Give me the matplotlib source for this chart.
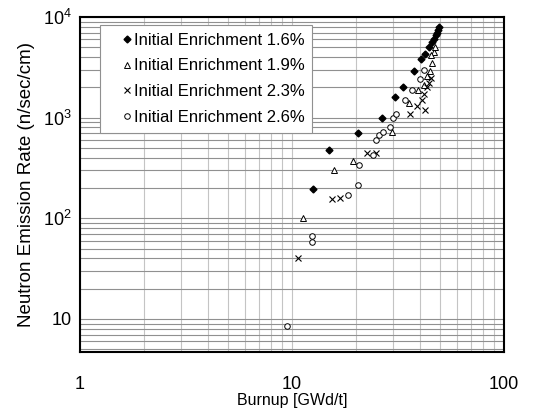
import matplotlib
matplotlib.use("Agg")
import matplotlib.pyplot as plt
from matplotlib.ticker import FixedLocator, LogLocator, NullFormatter

plt.rcParams['font.family'] = ['Liberation Sans', 'DejaVu Sans']

# burnup [GWd/t] and neutron emission rate (n/sec/cm)
e16_x = [12.5, 14.9, 20.5, 26.5, 30.5, 33.5, 37.5, 40.5, 42.5, 44.5, 46.0, 47.0, 48.0, 48.5, 49.0, 49.5]
e16_y = [195, 480, 700, 1000, 1600, 2000, 2900, 3800, 4300, 5000, 5700, 6100, 6700, 7000, 7500, 8000]

e19_x = [11.3, 15.8, 19.5, 29.5, 35.5, 39.5, 42.0, 43.5, 45.0, 46.0, 47.0, 45.5, 47.5]
e19_y = [100, 300, 370, 720, 1400, 1900, 2100, 2600, 2900, 3500, 4500, 4200, 5000]

e23_x = [10.7, 15.4, 16.8, 22.5, 25.0, 36.0, 39.0, 41.0, 42.0, 43.5, 44.5, 45.5, 42.5]
e23_y = [40, 155, 160, 450, 450, 1100, 1300, 1500, 1700, 2000, 2200, 2500, 1200]

e26_x = [9.5, 12.4, 12.4, 18.3, 20.5, 20.8, 24.0, 25.0, 25.8, 26.8, 29.0, 30.0, 31.0, 34.0, 37.0, 40.0, 42.0]
e26_y = [8.6, 66, 58, 170, 215, 340, 430, 600, 680, 720, 800, 1000, 1100, 1500, 1900, 2400, 3000]

labels = ['Initial Enrichment 1.6%', 'Initial Enrichment 1.9%',
          'Initial Enrichment 2.3%', 'Initial Enrichment 2.6%']

fig = plt.figure(figsize=(5.52, 4.16), dpi=100)
ax = fig.add_axes([0.145, 0.154, 0.768, 0.805])

ax.plot(e16_x, e16_y, 'D', ms=3.5, color='black', mfc='black', label=labels[0])
ax.plot(e19_x, e19_y, '^', ms=4, color='black', mfc='white', mew=0.7, label=labels[1])
ax.plot(e23_x, e23_y, 'x', ms=4, color='black', mew=0.8, label=labels[2])
ax.plot(e26_x, e26_y, 'o', ms=4, color='black', mfc='white', mew=0.7, label=labels[3])

ax.set_xscale('log')
ax.set_yscale('log')
ax.set_xlim(1, 100)
ax.set_ylim(4.7, 10000)

ax.xaxis.set_major_locator(FixedLocator([1, 10, 100]))
ax.set_xticklabels(['1', '10', '100'])
ax.yaxis.set_major_locator(FixedLocator([10, 100, 1000, 10000]))
ax.set_yticklabels(['10', '$\\mathregular{10^2}$', '$\\mathregular{10^3}$', '$\\mathregular{10^4}$'])
ax.xaxis.set_minor_locator(LogLocator(base=10, subs=range(2, 10)))
ax.yaxis.set_minor_locator(LogLocator(base=10, subs=range(2, 10)))
ax.xaxis.set_minor_formatter(NullFormatter())
ax.yaxis.set_minor_formatter(NullFormatter())

ax.tick_params(which='both', length=0, labelsize=13)
ax.tick_params(axis='x', pad=17)
ax.tick_params(axis='y', pad=6)

ax.grid(True, axis='x', which='both', color='#c4c4c4', lw=0.8)
ax.grid(True, axis='y', which='both', color='#909090', lw=0.8)
ax.set_axisbelow(True)
for s in ax.spines.values():
    s.set_linewidth(1.5)

ax.set_xlabel('Burnup [GWd/t]', fontsize=11.5, labelpad=0)
ax.set_ylabel('Neutron Emission Rate (n/sec/cm)', fontsize=13.5, labelpad=6)

leg = ax.legend(loc='upper left', bbox_to_anchor=(0.047, 0.976), borderaxespad=0,
                fontsize=12, numpoints=1, handlelength=2.4, handletextpad=-0.8,
                labelspacing=0.65, borderpad=0.45, fancybox=False, framealpha=1,
                edgecolor='#909090')
leg.get_frame().set_linewidth(0.8)

fig.savefig('out.png', dpi=100)
